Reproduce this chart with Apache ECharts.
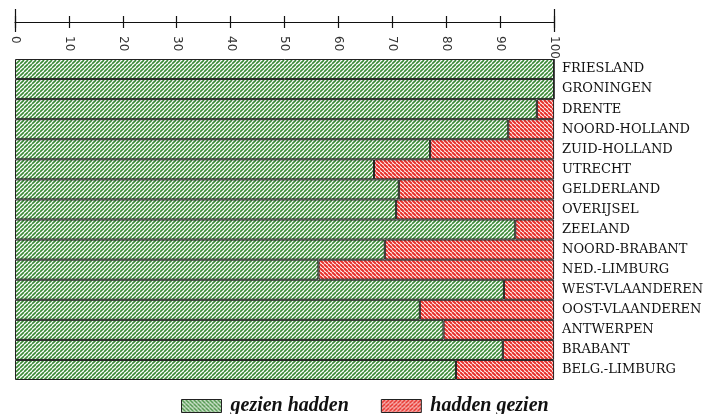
<!DOCTYPE html>
<html><head><meta charset="utf-8">
<script src="https://cdn.jsdelivr.net/npm/echarts@6/dist/echarts.min.js"></script>
<style>html,body{margin:0;padding:0;background:#fff}#c{width:706px;height:414px}</style>
</head><body><div id="c"></div>
<script>
const categories = ['FRIESLAND','GRONINGEN','DRENTE','NOORD-HOLLAND','ZUID-HOLLAND','UTRECHT','GELDERLAND','OVERIJSEL','ZEELAND','NOORD-BRABANT','NED.-LIMBURG','WEST-VLAANDEREN','OOST-VLAANDEREN','ANTWERPEN','BRABANT','BELG.-LIMBURG'];
const gezienHadden = [100,100,96.8,91.5,77.0,66.6,71.2,70.7,92.8,68.6,56.3,90.7,75.1,79.5,90.5,81.8];
const haddenGezien = [0,0,3.2,8.5,23.0,33.4,28.8,29.3,7.2,31.4,43.7,9.3,24.9,20.5,9.5,18.2];
const tickLabels = ['0','10','20','30','40','50','60','70','80','90','100'];

function hatch(bg, fg, dir, s, w) {
  const c = document.createElement('canvas');
  c.width = s; c.height = s;
  const g = c.getContext('2d');
  g.fillStyle = bg; g.fillRect(0,0,s,s);
  g.strokeStyle = fg; g.lineWidth = w;
  g.beginPath();
  if (dir > 0) {
    for (let k = -s; k <= 2*s; k += s) { g.moveTo(k, s); g.lineTo(k + s, 0); }
  } else {
    for (let k = -s; k <= 2*s; k += s) { g.moveTo(k, 0); g.lineTo(k + s, s); }
  }
  g.stroke();
  return c;
}
const greenPat = { image: hatch('#ffffff', '#3a8a36', 1, 4, 1.6), repeat: 'repeat' };
const redPat = { image: hatch('#ffffff', '#e8302a', -1, 4, 2.0), repeat: 'repeat' };
const greenLeg = { image: hatch('#ffffff', '#3a8a36', -1, 4, 1.6), repeat: 'repeat' };
const redLeg = { image: hatch('#ffffff', '#e8302a', 1, 4, 2.0), repeat: 'repeat' };

const chart = echarts.init(document.getElementById('c'));
const serif = 'DejaVu Serif';
const tickStyle = { color: '#111', width: 1.2 };
function extraAxis(interval, inside, len) {
  return {
    type: 'value', min: 0, max: 100, interval: interval, position: 'top', offset: 37,
    axisLine: { show: false },
    axisTick: { show: true, inside: inside, length: len, lineStyle: tickStyle },
    axisLabel: { show: false }, splitLine: { show: false }
  };
}
chart.setOption({
  animation: false,
  grid: { left: 15, right: 151, top: 59, bottom: 34 },
  xAxis: [{
    type: 'value', min: 0, max: 100, interval: 10, position: 'top', offset: 37,
    axisLine: { show: true, lineStyle: tickStyle },
    axisTick: { show: true, length: 6, lineStyle: tickStyle },
    axisLabel: { inside: true, rotate: 90, margin: 14, color: '#333', fontFamily: 'DejaVu Sans', fontSize: 12,
      formatter: v => tickLabels[Math.round(v / 10)] },
    splitLine: { show: false }
  }, extraAxis(10, true, 6), extraAxis(100, false, 13), extraAxis(100, true, 10)],
  yAxis: {
    type: 'category', data: categories, inverse: true, position: 'right',
    axisLine: { show: false }, axisTick: { show: false },
    axisLabel: { margin: 8, color: '#111', fontFamily: serif, fontSize: 13, align: 'left' }
  },
  legend: {
    left: 176, top: 391, itemWidth: 40, itemHeight: 13, itemGap: 32, icon: 'rect',
    textStyle: { fontFamily: 'Liberation Serif', fontStyle: 'italic', fontWeight: 'bold', fontSize: 20, color: '#111', padding: [0,0,0,4] },
    data: [
      { name: 'gezien hadden', itemStyle: { color: greenLeg, borderColor: '#222', borderWidth: 1 } },
      { name: 'hadden gezien', itemStyle: { color: redLeg, borderColor: '#222', borderWidth: 1 } }
    ]
  },
  series: [{
    name: 'gezien hadden', type: 'bar', stack: 't', barWidth: '100%', xAxisIndex: 0,
    data: gezienHadden,
    itemStyle: { color: greenPat, borderColor: '#222', borderWidth: 1 }
  }, {
    name: 'hadden gezien', type: 'bar', stack: 't', barWidth: '100%', xAxisIndex: 0,
    data: haddenGezien,
    itemStyle: { color: redPat, borderColor: '#222', borderWidth: 1 }
  }]
});
</script></body></html>
